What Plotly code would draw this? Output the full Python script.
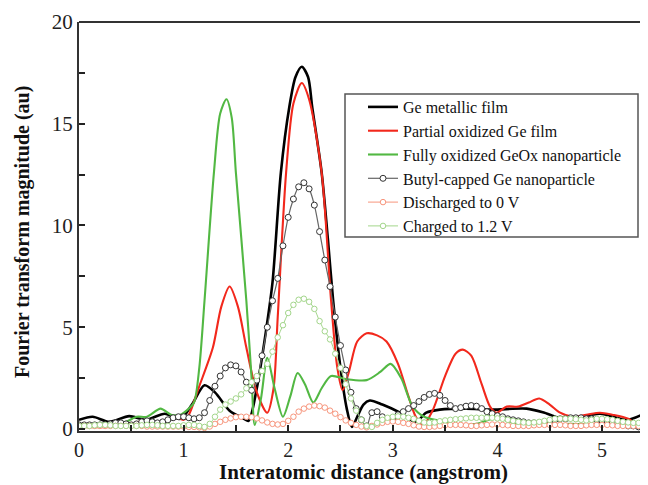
import plotly.graph_objects as go

# ---------------- data ----------------
# solid curves: key points
metal_x = [0.0, 0.13, 0.29, 0.48, 0.64, 0.82, 0.97, 1.08, 1.2, 1.3, 1.44, 1.56, 1.62, 1.7, 1.79, 1.85, 1.93, 2.01, 2.07, 2.13,
           2.19, 2.23, 2.32, 2.38, 2.43, 2.5, 2.56, 2.61, 2.66, 2.72, 2.78, 2.9, 3.07, 3.22, 3.32, 3.45, 3.7, 3.95, 4.28, 4.45,
           4.66, 4.98, 5.24, 5.44]
metal_y = [0.45, 0.6, 0.35, 0.63, 0.45, 0.75, 0.5, 1.2, 2.15, 1.8, 0.9, 0.55, 0.4, 2.0, 4.9, 7.2, 12.6, 15.8, 17.3, 17.8,
           17.3, 15.8, 12.6, 9.3, 6.3, 3.0, 1.0, 0.1, 0.6, 1.2, 1.4, 1.2, 0.8, 0.35, 0.8, 0.95, 1.0, 0.95, 1.0, 0.8,
           0.45, 0.75, 0.45, 0.85]

partial_x = [0.0, 0.3, 0.5, 0.57, 0.68, 0.8, 0.92, 1.0, 1.05, 1.15, 1.28, 1.36, 1.44, 1.52, 1.6, 1.7, 1.8, 1.86, 1.9, 1.98,
             2.05, 2.13, 2.2, 2.32, 2.41, 2.47, 2.52, 2.58, 2.66, 2.75, 2.85, 2.94, 3.05, 3.15, 3.22, 3.29, 3.38, 3.5, 3.6, 3.67,
             3.75, 3.85, 3.93, 3.99, 4.09, 4.2, 4.3, 4.4, 4.5, 4.6, 4.72, 4.85, 4.98, 5.1, 5.25, 5.36, 5.45]
partial_y = [0.1, 0.1, 0.2, 0.35, 0.2, 0.4, 0.6, 0.45, 0.7, 2.1, 4.0, 6.0, 7.0, 6.0, 4.0, 1.8, 0.8, 2.0, 5.5, 12.6,
             16.0, 17.0, 16.2, 12.6, 6.3, 3.0, 1.9, 2.8, 4.3, 4.7, 4.6, 4.3, 3.2, 1.6, 0.6, 0.2, 0.9, 2.6, 3.7, 3.9,
             3.6, 2.2, 1.1, 0.8, 1.1, 1.1, 1.3, 1.5, 1.2, 0.8, 0.6, 0.7, 0.8, 0.7, 0.5, 0.1, 0.0]

full_x = [0.0, 0.3, 0.45, 0.55, 0.65, 0.78, 0.88, 0.97, 1.05, 1.1, 1.15, 1.2, 1.29, 1.35, 1.41, 1.46, 1.5, 1.6, 1.65, 1.68,
          1.74, 1.8, 1.87, 1.95, 2.02, 2.09, 2.16, 2.24, 2.32, 2.41, 2.55, 2.75, 2.88, 2.98, 3.08, 3.19, 3.3, 3.45, 3.6, 3.8,
          4.0, 4.15, 4.4, 4.7, 5.0, 5.45]
full_y = [0.15, 0.15, 0.35, 0.6, 0.6, 1.0, 0.7, 0.7, 1.0, 1.3, 3.0, 6.3, 12.6, 15.5, 16.2, 15.3, 12.6, 6.3, 2.5, 0.2,
          1.5, 3.5, 2.0, 0.6, 1.6, 2.75, 2.2, 1.3, 2.0, 2.6, 2.45, 2.4, 2.8, 3.2, 2.5, 1.1, 0.6, 0.4, 0.2, 0.25,
          0.55, 0.3, 0.2, 0.25, 0.2, 0.2]

# marker curves: sampled every 0.05 angstrom
grid_x = [round(i * 0.05, 2) for i in range(110)]

butyl_y = [0.2, 0.2, 0.2, 0.2, 0.2, 0.2, 0.25, 0.3, 0.3, 0.25,
           0.2, 0.25, 0.35, 0.4, 0.35, 0.3, 0.35, 0.45, 0.55, 0.6,
           0.6, 0.55, 0.5, 0.55, 0.8, 1.4, 2.1, 2.6, 3.0, 3.15,
           3.1, 2.8, 2.3, 1.9, 2.4, 3.6, 5.0, 6.3, 7.4, 9.0,
           10.4, 11.3, 11.9, 12.1, 11.8, 11.0, 9.7, 8.3, 7.0, 5.5,
           4.1, 2.9, 1.8, 1.0, 0.45, 0.15, 0.8, 0.85, 0.6, 0.45,
           0.55, 0.7, 0.85, 1.0, 1.15, 1.35, 1.55, 1.7, 1.75, 1.65,
           1.4, 1.15, 1.0, 1.05, 1.12, 1.15, 1.12, 1.0, 0.85, 0.75,
           0.65, 0.6, 0.5, 0.45, 0.4, 0.35, 0.3, 0.3, 0.3, 0.35,
           0.4, 0.45, 0.5, 0.5, 0.55, 0.55, 0.55, 0.5, 0.5, 0.45,
           0.4, 0.35, 0.3, 0.25, 0.2, 0.15, 0.15, 0.1, 0.1, 0.1]

discharged_y = [0.15, 0.15, 0.15, 0.15, 0.15, 0.15, 0.15, 0.15, 0.15, 0.15,
                0.15, 0.15, 0.15, 0.12, 0.12, 0.12, 0.12, 0.12, 0.12, 0.12,
                0.12, 0.1, 0.1, 0.08, 0.05, 0.12, 0.25, 0.35, 0.45, 0.52,
                0.58, 0.6, 0.6, 0.58, 0.52, 0.42, 0.32, 0.25, 0.22, 0.25,
                0.4, 0.6, 0.85, 1.0, 1.1, 1.15, 1.12, 1.05, 0.9, 0.75,
                0.58, 0.42, 0.3, 0.2, 0.12, 0.08, 0.15, 0.22, 0.3, 0.35,
                0.37, 0.35, 0.3, 0.25, 0.18, 0.12, 0.1, 0.1, 0.12, 0.15,
                0.18, 0.2, 0.2, 0.2, 0.18, 0.15, 0.15, 0.18, 0.2, 0.22,
                0.22, 0.2, 0.18, 0.15, 0.15, 0.15, 0.15, 0.18, 0.2, 0.2,
                0.2, 0.2, 0.2, 0.18, 0.15, 0.15, 0.15, 0.18, 0.2, 0.2,
                0.2, 0.2, 0.18, 0.15, 0.15, 0.15, 0.15, 0.15, 0.15, 0.15]

charged_y = [0.15, 0.15, 0.15, 0.18, 0.2, 0.2, 0.18, 0.15, 0.15, 0.15,
             0.15, 0.15, 0.18, 0.2, 0.2, 0.18, 0.15, 0.15, 0.15, 0.15,
             0.18, 0.2, 0.2, 0.15, 0.1, 0.25, 0.6, 0.95, 1.2, 1.35,
             1.5, 1.7, 2.0, 2.3, 2.6, 2.85, 3.2, 3.8, 4.5, 5.1,
             5.7, 6.1, 6.35, 6.4, 6.25, 5.9, 5.3, 4.8, 4.4, 3.7,
             3.0, 2.2, 1.5, 0.9, 0.45, 0.15, 0.1, 0.3, 0.45, 0.55,
             0.6, 0.62, 0.6, 0.55, 0.5, 0.4, 0.32, 0.3, 0.32, 0.38,
             0.42, 0.45, 0.48, 0.5, 0.52, 0.55, 0.55, 0.55, 0.55, 0.55,
             0.52, 0.5, 0.45, 0.4, 0.35, 0.32, 0.3, 0.32, 0.35, 0.4,
             0.45, 0.5, 0.5, 0.5, 0.5, 0.48, 0.45, 0.42, 0.45, 0.5,
             0.5, 0.48, 0.45, 0.4, 0.35, 0.32, 0.3, 0.3, 0.3, 0.3]

names = ["Ge metallic film", "Partial oxidized Ge film", "Fully oxidized GeOx nanoparticle",
         "Butyl-capped Ge nanoparticle", "Discharged to 0 V", "Charged to 1.2 V"]

x_ticks = [0, 1, 2, 3, 4, 5]
y_ticks = [0, 5, 10, 15, 20]
x_title = "Interatomic distance (angstrom)"
y_title = "Fourier transform magnitude (au)"

FONT = "Liberation Serif"

fig = go.Figure()
fig.add_trace(go.Scatter(x=metal_x, y=metal_y, name=names[0], mode="lines",
                         line=dict(color="#000000", width=2.6, shape="spline", smoothing=0.8)))
fig.add_trace(go.Scatter(x=partial_x, y=partial_y, name=names[1], mode="lines",
                         line=dict(color="#f2281c", width=2.1, shape="spline", smoothing=0.8)))
fig.add_trace(go.Scatter(x=full_x, y=full_y, name=names[2], mode="lines",
                         line=dict(color="#52b843", width=2.1, shape="spline", smoothing=0.8)))
fig.add_trace(go.Scatter(x=grid_x, y=butyl_y, name=names[3], mode="lines+markers",
                         line=dict(color="#666666", width=1.2, shape="spline"),
                         marker=dict(symbol="circle", size=6, color="white",
                                     line=dict(color="#333333", width=1))))
fig.add_trace(go.Scatter(x=grid_x, y=discharged_y, name=names[4], mode="lines+markers",
                         line=dict(color="#f7957c", width=1, shape="spline"),
                         marker=dict(symbol="circle", size=5.5, color="white",
                                     line=dict(color="#f7957c", width=1))))
fig.add_trace(go.Scatter(x=grid_x, y=charged_y, name=names[5], mode="lines+markers",
                         line=dict(color="#a3d68b", width=1, shape="spline"),
                         marker=dict(symbol="circle", size=5.5, color="white",
                                     line=dict(color="#a3d68b", width=1))))

# the page body adds an 8 px offset, so the figure is 8 px smaller and shifted
OFF = 8
W, H = 648 - OFF, 485 - OFF
L, R, T, B = 79 - OFF, 648 - OFF, 22 - OFF, 431 - OFF
pw, ph = R - L, B - T


def px(xw):  # window pixel -> paper x
    return (xw - OFF - L) / pw


def py(yw):  # window pixel -> paper y
    return (B - (yw - OFF)) / ph


fig.update_layout(
    width=W, height=H,
    margin=dict(l=L, r=W - R, t=T, b=H - B, autoexpand=False),
    plot_bgcolor="white", paper_bgcolor="white",
    font=dict(family=FONT, size=20, color="#222222"),
    showlegend=True,
    legend=dict(x=px(363), y=py(90), xanchor="left", yanchor="top",
                bgcolor="rgba(0,0,0,0)", borderwidth=0,
                font=dict(family=FONT, size=16, color="#111111"),
                tracegroupgap=0, itemwidth=30),
    shapes=[dict(type="rect", xref="paper", yref="paper",
                 x0=px(345), x1=px(638), y0=py(237), y1=py(94),
                 line=dict(color="#555555", width=1.5), fillcolor="white", layer="below"),
            dict(type="line", xref="paper", yref="paper", x0=0, x1=1, y0=1, y1=1,
                 line=dict(color="#333333", width=2))],
    annotations=[
        dict(text="<b>" + x_title + "</b>", xref="paper", yref="paper",
             x=0.5, y=py(472), xanchor="center", yanchor="middle", showarrow=False,
             font=dict(family=FONT, size=21, color="#111111")),
        dict(text="<b>" + y_title + "</b>", xref="paper", yref="paper",
             x=px(22), y=py(232), xanchor="center", yanchor="middle", showarrow=False,
             textangle=-90, font=dict(family=FONT, size=20, color="#111111")),
    ],
)

fig.update_xaxes(range=[0, 5.44], tickmode="array", tickvals=x_ticks, automargin=False,
                 ticks="inside", ticklen=6, tickwidth=1.5, tickcolor="#222222",
                 minor=dict(dtick=0.5, ticks="inside", ticklen=6, tickwidth=1.5, tickcolor="#222222"),
                 showline=True, linecolor="#333333", linewidth=2, showgrid=False, zeroline=False,
                 tickfont=dict(family=FONT, size=20))
fig.update_yaxes(range=[-0.1, 20], tickmode="array", tickvals=y_ticks, automargin=False,
                 ticks="inside", ticklen=6, tickwidth=1.5, tickcolor="#222222",
                 minor=dict(dtick=2.5, ticks="inside", ticklen=6, tickwidth=1.5, tickcolor="#222222"),
                 showline=True, linecolor="#333333", linewidth=2, showgrid=False, zeroline=False,
                 tickfont=dict(family=FONT, size=21))

fig.write_html("out.html")
